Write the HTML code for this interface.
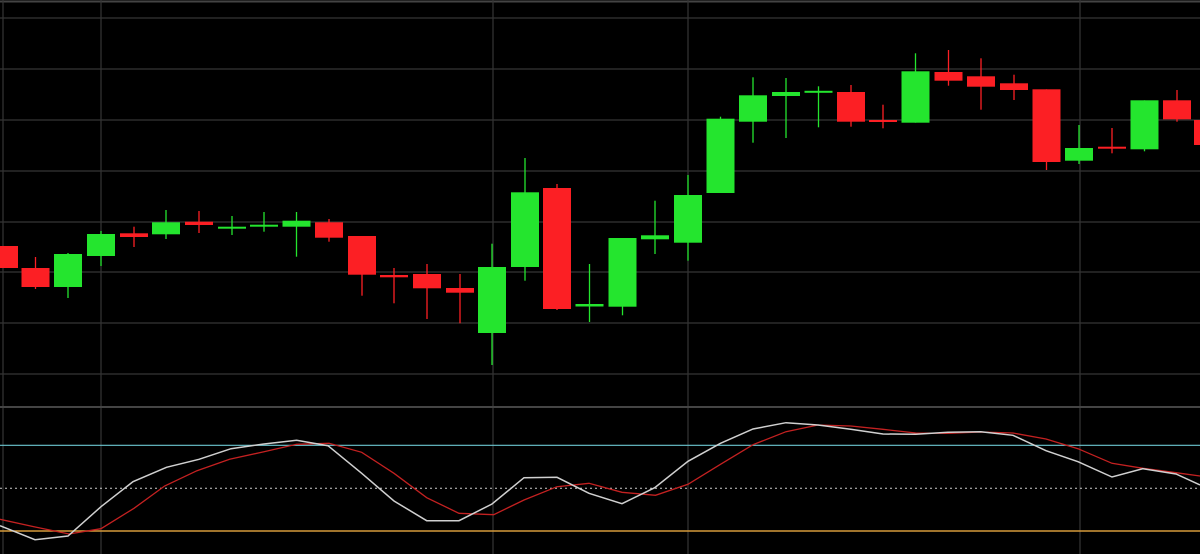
<!DOCTYPE html>
<html><head><meta charset="utf-8"><style>html,body{margin:0;padding:0;background:#000;width:1200px;height:554px;overflow:hidden}</style></head>
<body>
<svg width="1200" height="554" viewBox="0 0 1200 554" xmlns="http://www.w3.org/2000/svg">
<rect width="1200" height="554" fill="#000"/>
<g stroke="#353535" stroke-width="1.2">
<line x1="0" y1="1.5" x2="1200" y2="1.5" stroke="#444" stroke-width="2"/>
<line x1="0" y1="18" x2="1200" y2="18"/><line x1="0" y1="69" x2="1200" y2="69"/>
<line x1="0" y1="120" x2="1200" y2="120"/><line x1="0" y1="171" x2="1200" y2="171"/>
<line x1="0" y1="222" x2="1200" y2="222"/><line x1="0" y1="272" x2="1200" y2="272"/>
<line x1="0" y1="323" x2="1200" y2="323"/><line x1="0" y1="374" x2="1200" y2="374"/>
<line x1="3" y1="0" x2="3" y2="554"/><line x1="101" y1="0" x2="101" y2="554"/>
<line x1="493" y1="0" x2="493" y2="554"/><line x1="688" y1="0" x2="688" y2="554"/>
<line x1="1080" y1="0" x2="1080" y2="554"/>
<line x1="0" y1="407" x2="1200" y2="407" stroke="#444" stroke-width="2"/>
</g>
<line x1="0" y1="445.3" x2="1200" y2="445.3" stroke="#6cc6d0" stroke-width="1.2"/>
<line x1="0" y1="488.3" x2="1200" y2="488.3" stroke="#ccc" stroke-width="1" stroke-dasharray="2,3"/>
<line x1="0" y1="531" x2="1200" y2="531" stroke="#d69a3a" stroke-width="1.5"/>
<g id="c"></g>
<polyline fill="none" stroke="#c42121" stroke-width="1.3" points="0,519.3 34,526.7 69,534 101,528.7 134,508.3 164.6,486 197,470.7 229.6,459.3 264,451.7 296.6,444.3 329,443.3 361.7,452.3 394,473.3 426.7,497.7 459,513.3 493.7,514.7 524,500 557,486.7 589,483.3 622,492.3 655.5,495.3 688,484.3 720.5,464.3 753,444.7 786,431.7 818,425 850.7,426 883,429.3 915.7,433 948,433.3 980.8,432 1013,433 1046,439 1078,448.7 1112,463.3 1143,468.3 1176,472.7 1200,476"/>
<polyline fill="none" stroke="#d0d0d0" stroke-width="1.5" points="0,525.7 35,539.7 68,536 101,506.7 133,481.7 166.5,467.3 199,459.3 231,448.7 264,444 296.6,440.3 328,445.7 361.7,473.3 394,501 426.7,520.7 459,520.7 492,504 524,477.7 557,477.3 589,493.3 622,503.7 654.7,487.7 688,461.3 720.5,443.3 753,429 786,422.7 818,425 850.7,429.3 883,434 915.7,434.3 948,432.3 980.8,431.7 1013,435.3 1046,450.7 1078,461.7 1112,477 1143,468.7 1176,474 1200,485"/>
</svg>
<script>
var d=[
[4,246,268,246,268,'r'],[35.5,268,287,257,289,'r'],[68,254,287,253,298,'g'],[101,234,256,231,266,'g'],
[134,233.3,237,226.7,247,'r'],[166,222.3,234.3,210,239,'g'],[199,221.7,225,211,233,'r'],[232,226.7,228.7,216,235,'g'],
[264,224.7,226.5,212,231.7,'g'],[296.5,220.7,226.7,212,256.7,'g'],[329,222.3,237.7,219,241.7,'r'],[362,236,274.7,236,295.7,'r'],
[394,275,277.3,268,303.3,'r'],[427,274,288.3,264,319,'r'],[460,288,292.7,274,323.3,'r'],[492,267,333,243.7,365,'g'],
[525,192.3,267,158,280.7,'g'],[557,188,309,184,310,'r'],[589.5,304,306.5,264,322,'g'],[622.5,238,306.7,238,315.3,'g'],
[655,235.3,239.3,200.7,254,'g'],[688,195,242.7,175,260.7,'g'],[720.5,118.7,193,116.7,193,'g'],[753,95.3,121.7,77.3,142.7,'g'],
[786,92,96,78,138,'g'],[818.5,90.8,92.7,86.3,127.3,'g'],[851,92,121.7,85,126.7,'r'],[883,120,122,104.7,128.3,'r'],
[915.5,71.3,122.7,53.3,122.7,'g'],[948.5,72,80.7,50,85.7,'r'],[981,76.3,86.7,58.3,109.7,'r'],[1014,83.3,90,74.7,100,'r'],
[1046.5,89.3,162,89.3,170,'r'],[1079,148,160.7,125,164,'g'],[1112,146.7,148.7,128,153.3,'r'],[1144.5,100.3,149.3,100.3,151.3,'g'],
[1177,100.3,119.3,90,121.7,'r'],[1208,120,145,110,150,'r']];
var s='';d.forEach(function(c){var col=c[5]=='g'?'#24e52e':'#fc1f24';
s+='<line x1="'+c[0]+'" y1="'+c[3]+'" x2="'+c[0]+'" y2="'+c[4]+'" stroke="'+col+'" stroke-width="1.3"/>';
var h=Math.max(c[2]-c[1],2);s+='<rect x="'+(c[0]-14)+'" y="'+c[1]+'" width="28" height="'+h+'" fill="'+col+'"/>';});
document.getElementById('c').innerHTML=s;
</script>
</body></html>
